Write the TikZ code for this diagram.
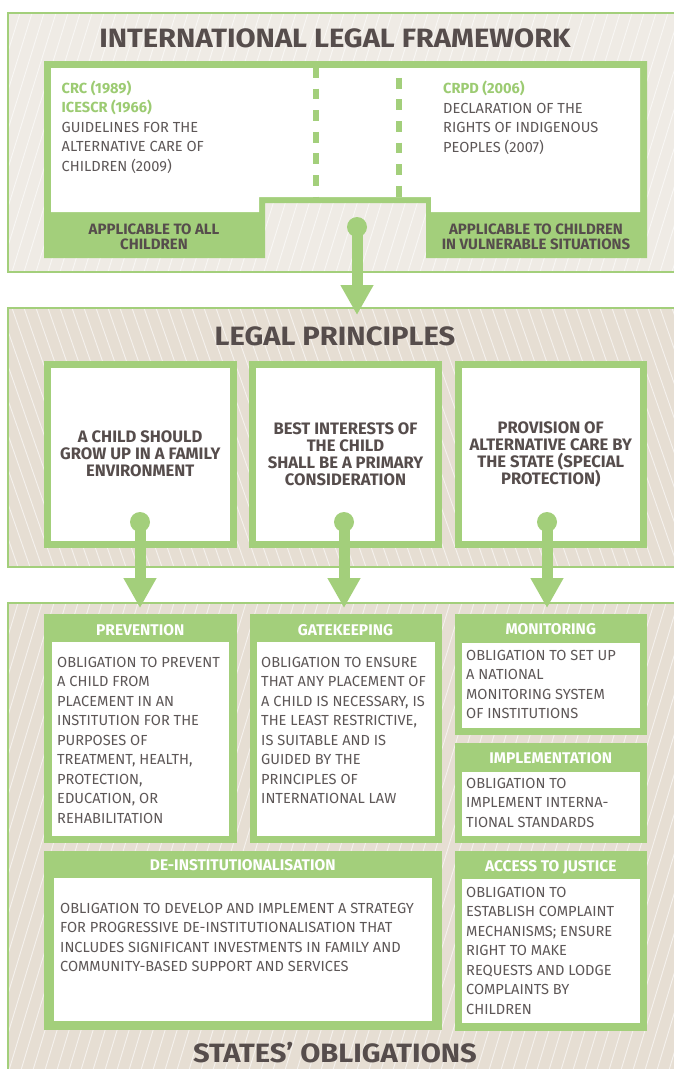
\documentclass[tikz,border=0pt]{standalone}
\usepackage{fontspec}
\setmainfont{Fira Sans}
\newfontfamily\condfont{Fira Sans}
\newfontfamily\titlefont{Fira Sans}[FakeStretch=1.1]
\usetikzlibrary{arrows.meta}

\definecolor{lgreen}{HTML}{A3CF7B}
\definecolor{gtext}{HTML}{9CCB72}
\definecolor{ink}{HTML}{564D4C}
\definecolor{txt}{HTML}{5D5757}
\definecolor{paleback}{HTML}{EFEBE5}
\definecolor{darkback}{HTML}{E6DED3}

\tikzset{
  panel/.style={draw=lgreen, line width=2pt},
  stripe/.style={draw=white, opacity=0.6, line width=0.9pt},
  title/.style={font=\titlefont\bfseries\fontsize{26.5}{26.5}\selectfont, text=ink, inner sep=0pt, anchor=base},
  bodytxt/.style={font=\condfont\fontsize{14.6}{19.5}\selectfont, text=txt, align=left, inner sep=0pt, anchor=base west},
  labtxt/.style={font=\condfont\bfseries\fontsize{15}{14.7}\selectfont, text=ink, align=center, inner sep=0pt},
  headtxt/.style={font=\condfont\bfseries\fontsize{15.5}{16}\selectfont, text=white, inner sep=0pt},
  principle/.style={draw=lgreen, line width=7pt, fill=white, minimum width=185.5pt, minimum height=180pt,
    font=\condfont\bfseries\fontsize{16.6}{17}\selectfont, text=ink, align=center, inner sep=0pt},
  divider/.style={draw=lgreen, line width=6pt, dash pattern=on 10.8pt off 10.8pt},
  dot/.style={circle, fill=lgreen, minimum size=20pt, inner sep=0pt},
  flow/.style={draw=lgreen, line width=11pt, -{Triangle[width=31pt,length=30pt]}}
}

\begin{document}
\begin{tikzpicture}[x=1pt,y=-1pt]
    \useasboundingbox (0,0) rectangle (674,1069);
    \clip (0,0) rectangle (674,1069);
    %international legal framework
    \fill[paleback] (8,13) rectangle (690,272);
    \begin{scope}
      \clip (8,13) rectangle (690,272);
      \foreach \i in {-10,...,60}
        \draw[stripe] (\i*12,272) -- ++(80,-259);
    \end{scope}
    \draw[panel] (8,13) rectangle (690,272);
    \node[title] (iltitle) at (335,47) {INTERNATIONAL LEGAL FRAMEWORK};
    \fill[lgreen] (44,61) -- (647,61) -- (647,258) -- (426,258) -- (426,203)
      -- (265,203) -- (265,258) -- (44,258) -- cycle;
    \fill[white] (51,68) -- (640,68) -- (640,212) -- (431,212) -- (431,197)
      -- (259,197) -- (259,212) -- (51,212) -- cycle;
    \draw[divider] (316,67) -- (316,197);
    \draw[divider, dash phase=10.8pt] (399,67) -- (399,197);
    % base anchor sits on the last line
    \node[bodytxt] (alllaws) at (61.5,171) {\textcolor{gtext}{\bfseries CRC (1989)}\\
      \textcolor{gtext}{\bfseries ICESCR (1966)}\\GUIDELINES FOR THE\\ALTERNATIVE CARE OF\\CHILDREN (2009)};
    \node[bodytxt] (vulnlaws) at (443,152) {\textcolor{gtext}{\bfseries CRPD (2006)}\\
      DECLARATION OF THE\\RIGHTS OF INDIGENOUS\\PEOPLES (2007)};
    \node[labtxt] (alllab) at (154,236.5) {APPLICABLE TO ALL\\CHILDREN};
    \node[labtxt] (vulnlab) at (536,236.5) {APPLICABLE TO CHILDREN\\IN VULNERABLE SITUATIONS};
    %legal principles
    \fill[darkback] (8,308) rectangle (690,567);
    \begin{scope}
      \clip (8,308) rectangle (690,567);
      \foreach \i in {-10,...,60}
        \draw[stripe] (\i*12,308) -- ++(90,259);
    \end{scope}
    \draw[panel] (8,308) rectangle (690,567);
    \node[title] (lptitle) at (335,345) {LEGAL PRINCIPLES};
    \node[principle] (family) at (140.25,454) {A CHILD SHOULD\\GROW UP IN A FAMILY\\ENVIRONMENT};
    \node[principle] (interests) at (345.5,454) {BEST INTERESTS OF\\THE CHILD\\SHALL BE A PRIMARY\\CONSIDERATION};
    \node[principle] (provision) at (550.75,454) {PROVISION OF\\ALTERNATIVE CARE BY\\THE STATE (SPECIAL\\PROTECTION)};
    %states' obligations
    \fill[darkback] (8,603) rectangle (690,1100);
    \begin{scope}
      \clip (8,603) rectangle (690,1100);
      \foreach \i in {-20,...,60}
        \draw[stripe] (\i*12,1100) -- ++(150,-497);
    \end{scope}
    \draw[panel] (8,603) rectangle (690,1100);
    \node[title] (sotitle) at (335,1062) {STATES’ OBLIGATIONS};
    % prevention
    \fill[lgreen] (44,614) rectangle (236.5,843);
    \fill[white] (51.5,642) rectangle (229,836);
    \node[headtxt] (prevhead) at (140.25,630) {PREVENTION};
    \node[bodytxt] (prevtxt) at (57,823) {OBLIGATION TO PREVENT\\A CHILD FROM\\PLACEMENT IN AN\\
      INSTITUTION FOR THE\\PURPOSES OF\\TREATMENT, HEALTH,\\PROTECTION,\\EDUCATION, OR\\REHABILITATION};
    % gatekeeping
    \fill[lgreen] (249.5,614) rectangle (441.5,843);
    \fill[white] (256.5,642) rectangle (434.5,836);
    \node[headtxt] (gatehead) at (345.5,630) {GATEKEEPING};
    \node[bodytxt] (gatetxt) at (261,803.5) {OBLIGATION TO ENSURE\\THAT ANY PLACEMENT OF\\A CHILD IS NECESSARY, IS\\
      THE LEAST RESTRICTIVE,\\IS SUITABLE AND IS\\GUIDED BY THE\\PRINCIPLES OF\\INTERNATIONAL LAW};
    % monitoring
    \fill[lgreen] (454.5,614) rectangle (647,735);
    \fill[white] (461.5,643) rectangle (640,728);
    \node[headtxt] (monhead) at (550.75,629) {MONITORING};
    \node[bodytxt] (montxt) at (466,718.5) {OBLIGATION TO SET UP\\A NATIONAL\\MONITORING SYSTEM\\OF INSTITUTIONS};
    % implementation
    \fill[lgreen] (454.5,743) rectangle (647,843);
    \fill[white] (461.5,772) rectangle (640,836);
    \node[headtxt] (implhead) at (550.75,758) {IMPLEMENTATION};
    \node[bodytxt] (impltxt) at (466,827) {OBLIGATION TO\\IMPLEMENT INTERNA-\\TIONAL STANDARDS};
    % de-institutionalisation
    \fill[lgreen] (44,851) rectangle (441.5,1030);
    \fill[white] (54,878) rectangle (432,1021);
    \node[headtxt] (deihead) at (242.75,865) {DE-INSTITUTIONALISATION};
    \node[bodytxt] (deitxt) at (60,971.5) {OBLIGATION TO DEVELOP AND IMPLEMENT A STRATEGY\\
      FOR PROGRESSIVE DE-INSTITUTIONALISATION THAT\\INCLUDES SIGNIFICANT INVESTMENTS IN FAMILY AND\\
      COMMUNITY-BASED SUPPORT AND SERVICES};
    % access to justice
    \fill[lgreen] (454.5,851) rectangle (647,1031);
    \fill[white] (461.5,879) rectangle (640,1023);
    \node[headtxt] (acchead) at (550.75,867) {ACCESS TO JUSTICE};
    \node[bodytxt] (acctxt) at (466,1014) {OBLIGATION TO\\ESTABLISH COMPLAINT\\MECHANISMS; ENSURE\\
      RIGHT TO MAKE\\REQUESTS AND LODGE\\COMPLAINTS BY\\CHILDREN};
    %arrows
    \node[dot] (topdot) at (357,227) {};
    \coordinate (toptip) at (357,315);
    \draw[flow] (topdot.center) -- (toptip);
    \node[dot] (famdot) at (140,522) {};
    \coordinate (famtip) at (140,608);
    \draw[flow] (famdot.center) -- (famtip);
    \node[dot] (intdot) at (344,522) {};
    \coordinate (inttip) at (344,608);
    \draw[flow] (intdot.center) -- (inttip);
    \node[dot] (prodot) at (547,522) {};
    \coordinate (protip) at (547,608);
    \draw[flow] (prodot.center) -- (protip);
\end{tikzpicture}
\end{document}
